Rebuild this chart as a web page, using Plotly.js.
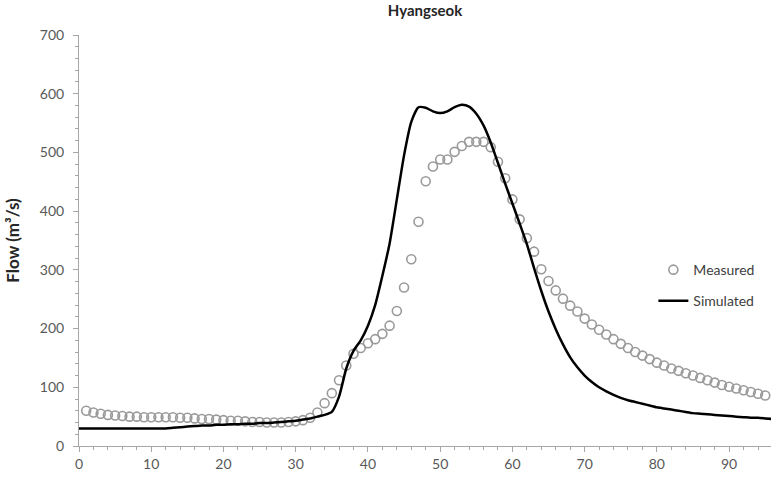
<!DOCTYPE html>
<html><head><meta charset="utf-8">
<script src="https://cdn.plot.ly/plotly-3.0.1.min.js"></script>
<style>html,body{margin:0;padding:0;background:#fff}#chart{width:771px;height:483px}</style>
</head><body><div id="chart"></div>
<script>
const measuredX = [1,2,3,4,5,6,7,8,9,10,11,12,13,14,15,16,17,18,19,20,21,22,23,24,25,26,27,28,29,30,31,32,33,34,35,36,37,38,39,40,41,42,43,44,45,46,47,48,49,50,51,52,53,54,55,56,57,58,59,60,61,62,63,64,65,66,67,68,69,70,71,72,73,74,75,76,77,78,79,80,81,82,83,84,85,86,87,88,89,90,91,92,93,94,95];
const measuredY = [60,57,55,53,52,51,50,50,49,49,49,49,49,48,48,47,46,46,45,44,43,43,42,41,41,40,40,40,41,42,44,48,57,73,90,112,137,157,167,175,182,191,205,230,270,318,382,451,476,488,488,501,511,518,518,518,509,484,456,420,386,354,331,301,281,265,251,239,229,217,207,198,190,182,174,167,160,154,148,142,137,132,128,124,120,116,112,108,104,101,98,95,92,89,86];
const simulatedX = [0,1,2,3,4,5,6,7,8,9,10,11,12,13,14,15,16,17,18,19,20,21,22,23,24,25,26,27,28,29,30,31,32,33,34,35,36,37,38,39,40,41,42,43,44,45,46,47,48,49,50,51,52,53,54,55,56,57,58,59,60,61,62,63,64,65,66,67,68,69,70,71,72,73,74,75,76,77,78,79,80,81,82,83,84,85,86,87,88,89,90,91,92,93,94,95,96];
const simulatedY = [30,30,30,30,30,30,30,30,30,30,30,30,30,31,32,33,34,35,35,36,36,37,37,38,38,39,39,40,41,42,43,45,47,50,53,58,84,132,162,180,205,240,290,345,420,495,552,577,576,570,567,570,577,581,578,566,546,517,482,447,413,379,344,303,264,229,199,173,151,134,120,109,100,93,87,82,78,75,72,69,66,64,62,60,58,56,55,54,53,52,51,50,49,48,48,47,46];
const xTicks = [0,10,20,30,40,50,60,70,80,90];
const yTicks = [0,100,200,300,400,500,600,700];

const FONT = 'Lato, "Open Sans", sans-serif';
const data = [
  {x: measuredX, y: measuredY, name: 'Measured', type: 'scatter', mode: 'markers', legendgroup: 'm',
   marker: {symbol: 'circle-open', size: 9, color: '#9a9a9a', line: {width: 1.6, color: '#9a9a9a'}}},
  {x: simulatedX, y: simulatedY, name: 'Simulated', type: 'scatter', mode: 'lines', legendgroup: 's',
   line: {color: '#000', width: 2.5, shape: 'spline', smoothing: 0.6}}
];
const layout = {
  width: 771, height: 483,
  margin: {l: 79, r: 0, t: 35, b: 37},
  paper_bgcolor: '#fff', plot_bgcolor: '#fff',
  font: {family: FONT, size: 14, color: '#595959'},
  title: {text: '<b>Hyangseok</b>', font: {family: FONT, size: 15, color: '#262626'}, x: 0.5, xref: 'paper', y: 0.978, yanchor: 'middle'},
  xaxis: {range: [0, 95.8], tickvals: xTicks, ticktext: xTicks.map(String), showgrid: false, zeroline: false,
    showline: true, linecolor: '#a6a6a6', linewidth: 1, ticks: 'outside', ticklen: 5, tickcolor: '#a6a6a6',
    minor: {dtick: 2, ticks: 'outside', ticklen: 3, tickcolor: '#a6a6a6', showgrid: false},
    tickfont: {size: 14, color: '#595959'}},
  yaxis: {range: [0, 700], tickvals: yTicks, ticktext: yTicks.map(String), showgrid: false, zeroline: false,
    showline: true, linecolor: '#a6a6a6', linewidth: 1, ticks: 'outside', ticklen: 5, tickcolor: '#a6a6a6',
    minor: {dtick: 20, ticks: 'outside', ticklen: 3, tickcolor: '#a6a6a6', showgrid: false},
    tickfont: {size: 14, color: '#595959'}, ticklabelstandoff: 6,
    title: {text: '<b>Flow (m³/s)</b>', font: {family: FONT, size: 17, color: '#262626'}, standoff: 15}},
  showlegend: true,
  legend: {x: 0.83, y: 0.467, xanchor: 'left', yanchor: 'top', bgcolor: 'rgba(0,0,0,0)', traceorder: 'grouped',
    font: {family: FONT, size: 14, color: '#404040'}, tracegroupgap: 10, itemwidth: 30}
};
Plotly.newPlot('chart', data, layout, {displayModeBar: false, staticPlot: true});
</script></body></html>
